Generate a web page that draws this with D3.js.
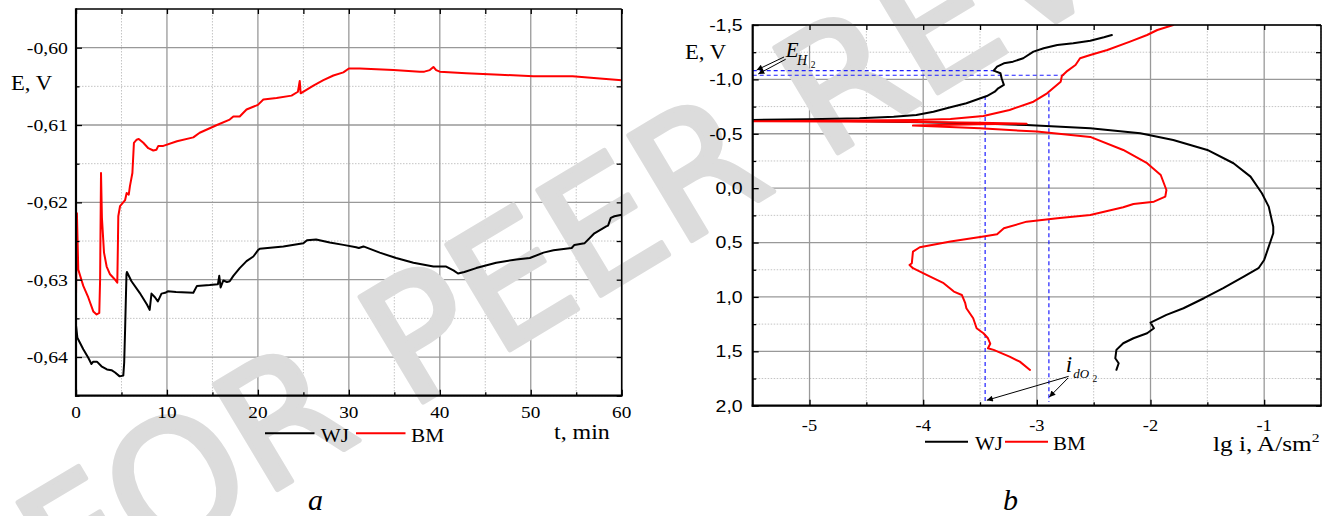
<!DOCTYPE html>
<html><head><meta charset="utf-8">
<script src="https://cdn.jsdelivr.net/npm/d3@7"></script>
<style>body{margin:0;background:#fff;} svg{display:block;}
.serif{font-family:"Liberation Serif","Times New Roman",Times,serif;}
.sans{font-family:"Liberation Sans",Arial,Helvetica,sans-serif;}
</style>
</head><body>
<svg id="c" width="1333" height="516"></svg>
<script>
// ---------- Panel a: open-circuit potential vs time ----------
const aTimeWJ = [0,0.15,0.8,1.35,1.7,1.9,2.3,2.8,3.4,3.9,4.3,4.8,5.2,5.3,5.4,5.55,5.6,6.1,7.0,7.8,8.1,8.3,8.7,9.0,9.4,9.8,10.1,11.0,12.9,13.3,14.7,15.6,15.75,15.9,16.2,16.6,16.9,17.3,18.0,18.75,19.5,20.0,20.2,22.8,25.0,25.4,26.4,27.9,29.4,30.8,31.1,31.6,33.4,35.2,37.1,39.3,40.7,41.5,42.0,42.7,44.0,46.2,48.4,49.9,51.4,52.5,54.5,54.8,55.9,57.0,58.3,58.5,58.8,59.2,60];
const aEWJ = [-0.6359,-0.6375,-0.6390,-0.6401,-0.6409,-0.6406,-0.6406,-0.6412,-0.6416,-0.6417,-0.6420,-0.6425,-0.6424,-0.6407,-0.6364,-0.6293,-0.6290,-0.6302,-0.6317,-0.6332,-0.6339,-0.6318,-0.6323,-0.6328,-0.6318,-0.6317,-0.6315,-0.6316,-0.6317,-0.6308,-0.6307,-0.6306,-0.6295,-0.6310,-0.6301,-0.6303,-0.6302,-0.6295,-0.6285,-0.6276,-0.6270,-0.6262,-0.6260,-0.6257,-0.6253,-0.6249,-0.6248,-0.6252,-0.6255,-0.6258,-0.6259,-0.6257,-0.6265,-0.6272,-0.6278,-0.6283,-0.6283,-0.6288,-0.6292,-0.6290,-0.6285,-0.6278,-0.6274,-0.6272,-0.6265,-0.6262,-0.6259,-0.6255,-0.6253,-0.6240,-0.6231,-0.6230,-0.6220,-0.6218,-0.6216];
const aTimeBM = [0,0.1,0.25,0.8,1.35,1.9,2.27,2.56,2.65,2.75,2.85,3.08,3.37,3.74,4.3,4.54,4.6,4.65,4.84,5.4,5.57,5.8,5.93,6.2,6.37,6.67,6.9,7.4,7.95,8.5,8.84,9.05,9.6,11.1,12.9,13.6,15.5,16.9,17.3,18.0,18.75,20.0,20.6,22.05,23.7,24.4,24.6,24.7,26.1,27.2,28.3,29.4,30.0,31.2,34.9,37.8,38.3,38.9,39.3,39.6,40.0,42.9,46.6,50.3,54.6,57.6,60];
const aEBM = [-0.6323,-0.6214,-0.6287,-0.6308,-0.6323,-0.6341,-0.6345,-0.6343,-0.6300,-0.6162,-0.6220,-0.6265,-0.6283,-0.6293,-0.6300,-0.6304,-0.6260,-0.6218,-0.6205,-0.6197,-0.6188,-0.6190,-0.6179,-0.6162,-0.6123,-0.6119,-0.6118,-0.6123,-0.6130,-0.6133,-0.6132,-0.6127,-0.6127,-0.6121,-0.6116,-0.6110,-0.6100,-0.6093,-0.6089,-0.6089,-0.6080,-0.6074,-0.6067,-0.6065,-0.6062,-0.6057,-0.6043,-0.6059,-0.6049,-0.6042,-0.6036,-0.6032,-0.6027,-0.6027,-0.6029,-0.6031,-0.6031,-0.6029,-0.6025,-0.6029,-0.6031,-0.6033,-0.6035,-0.6037,-0.6037,-0.6040,-0.6042];
const aXTicks = [0,10,20,30,40,50,60];
const aXTickLabels = ["0","10","20","30","40","50","60"];
const aXMinor = [5,15,25,35,45,55];
const aYTicks = [-0.64,-0.63,-0.62,-0.61,-0.60];
const aYTickLabels = ["-0,64","-0,63","-0,62","-0,61","-0,60"];
const aYMinor = [-0.645,-0.635,-0.625,-0.615,-0.605];

// ---------- Panel b: polarization curves ----------
const bLgWJ = [-2.34,-2.41,-2.53,-2.68,-2.82,-2.94,-3.03,-3.12,-3.21,-3.29,-3.35,-3.38,-3.32,-3.31,-3.29,-3.34,-3.37,-3.44,-3.62,-3.76,-3.91,-4.06,-4.26,-4.56,-5.0,-5.5,-5.0,-4.5,-4.0,-3.5,-3.09,-2.53,-2.09,-1.80,-1.50,-1.27,-1.12,-1.02,-0.96,-0.92,-0.92,-0.96,-0.99,-1.0,-1.05,-1.18,-1.36,-1.53,-1.71,-1.86,-2.0,-1.97,-2.03,-2.15,-2.24,-2.30,-2.31,-2.28,-2.30];
const bEWJ = [-1.408,-1.387,-1.356,-1.332,-1.316,-1.286,-1.255,-1.194,-1.163,-1.148,-1.117,-1.08,-1.056,-1.01,-0.949,-0.918,-0.887,-0.847,-0.78,-0.744,-0.703,-0.673,-0.657,-0.642,-0.633,-0.627,-0.622,-0.614,-0.605,-0.594,-0.581,-0.55,-0.504,-0.443,-0.351,-0.229,-0.106,0.047,0.17,0.354,0.415,0.538,0.63,0.66,0.736,0.813,0.92,1.012,1.104,1.165,1.236,1.288,1.334,1.38,1.426,1.487,1.564,1.61,1.67];
const bLgBM = [-3.06,-3.15,-3.24,-3.38,-3.43,-3.41,-3.43,-3.47,-3.53,-3.56,-3.59,-3.62,-3.63,-3.66,-3.73,-3.82,-3.97,-4.09,-4.12,-4.10,-4.09,-4.03,-3.76,-3.47,-3.35,-3.29,-3.09,-2.82,-2.53,-2.24,-2.15,-1.97,-1.87,-1.86,-1.91,-2.03,-2.24,-2.53,-3.0,-3.5,-4.09,-3.5,-3.09,-3.5,-4.2,-5.5,-4.6,-4.06,-3.76,-3.47,-3.24,-3.03,-2.91,-2.79,-2.78,-2.74,-2.66,-2.62,-2.53,-2.38,-2.18,-2.03,-1.94,-1.80];
const bEBM = [1.671,1.595,1.549,1.487,1.472,1.43,1.38,1.334,1.288,1.196,1.15,1.104,1.058,0.982,0.951,0.874,0.798,0.736,0.706,0.69,0.583,0.543,0.491,0.445,0.424,0.369,0.308,0.277,0.246,0.176,0.145,0.124,0.078,0.017,-0.121,-0.229,-0.351,-0.471,-0.52,-0.55,-0.575,-0.588,-0.592,-0.602,-0.611,-0.615,-0.622,-0.627,-0.636,-0.664,-0.719,-0.795,-0.872,-0.979,-1.031,-1.071,-1.132,-1.194,-1.224,-1.27,-1.347,-1.408,-1.454,-1.5];
const bXTicks = [-5,-4,-3,-2,-1];
const bXTickLabels = ["-5","-4","-3","-2","-1"];
const bXMinor = [-5.5,-4.5,-3.5,-2.5,-1.5,-0.5];
const bYTicks = [-1.5,-1.0,-0.5,0,0.5,1.0,1.5,2.0];
const bYTickLabels = ["-1,5","-1,0","-0,5","0,0","0,5","1,0","1,5","2,0"];
const bYMinor = [-1.25,-0.75,-0.25,0.25,0.75,1.25,1.75];
// guide lines: hydrogen potentials and oxygen limiting currents
const bHydrogenE = [-1.08,-1.038];
const bHydrogenLg = [-3.38,-2.76];
const bOxygenLg = [-3.455,-2.894];
const bOxygenE = [-0.847,-0.872];
const seriesNames = ["WJ","BM"];
const seriesColors = ["#000000","#ff0000"];

const svg = d3.select("#c");
const defs = svg.append("defs");
defs.append("marker").attr("id","ah").attr("viewBox","0 0 10 10").attr("refX",10).attr("refY",5)
  .attr("markerWidth",8).attr("markerHeight",6).attr("markerUnits","userSpaceOnUse").attr("orient","auto")
  .append("path").attr("d","M0,0 L10,5 L0,10 z").attr("fill","#000");

const xA = d3.scaleLinear([0,60],[76,621.7]);
const yA = d3.scaleLinear([-0.645,-0.595],[395.7,9]);
const xB = d3.scaleLinear([-5.5,-0.5],[752.7,1321]);
const yB = d3.scaleLinear([-1.5,2.0],[25,405.7]);

const gGrid = svg.append("g");
const gWm = svg.append("g");
const gData = svg.append("g");
const gAxes = svg.append("g");
const lab = svg.append("g").attr("fill","#000");

function stretch(sel, sx, origin) {
  sel.style("transform-box","fill-box").style("transform-origin",origin).style("transform",`scaleX(${sx})`);
  return sel;
}
function txt(x, y, s, cls, fs, anchor, sx, extra) {
  const t = lab.append("text").attr("class",cls).attr("x",x).attr("y",y).attr("text-anchor",anchor||"start")
    .style("font-size",fs+"px").text(s);
  if (extra && extra.italic) t.style("font-style","italic");
  if (sx && sx !== 1) stretch(t, sx, anchor==="end" ? "right center" : anchor==="middle" ? "center" : "left center");
  return t;
}

function grid(x, y, xMaj, xMin, yMaj, yMin) {
  const [L,R] = x.range(); const T = Math.min(...y.range()), B = Math.max(...y.range());
  const g = gGrid.append("g");
  g.selectAll(".mx").data(xMin).join("line").attr("x1",d=>x(d)).attr("x2",d=>x(d)).attr("y1",T).attr("y2",B)
    .attr("stroke","#c4c4c4").attr("stroke-width",1).attr("stroke-dasharray","1.5,1.5");
  g.selectAll(".my").data(yMin).join("line").attr("y1",d=>y(d)).attr("y2",d=>y(d)).attr("x1",L).attr("x2",R)
    .attr("stroke","#c4c4c4").attr("stroke-width",1).attr("stroke-dasharray","1.5,1.5");
  g.selectAll(".Mx").data(xMaj).join("line").attr("x1",d=>x(d)).attr("x2",d=>x(d)).attr("y1",T).attr("y2",B)
    .attr("stroke","#999999").attr("stroke-width",1.3);
  g.selectAll(".My").data(yMaj).join("line").attr("y1",d=>y(d)).attr("y2",d=>y(d)).attr("x1",L).attr("x2",R)
    .attr("stroke","#999999").attr("stroke-width",1.3);
}
grid(xA, yA, aXTicks, aXMinor, aYTicks, aYMinor);
grid(xB, yB, bXTicks, bXMinor, bYTicks, bYMinor);

// watermark
gWm.append("text").text("FOR PEER REVIEW")
  .attr("transform","translate(67,616) rotate(-31)")
  .attr("font-family","DejaVu Sans").attr("font-size",168)
  .attr("fill","#dcdcdc").attr("stroke","#dcdcdc").attr("stroke-width",5).attr("stroke-linejoin","round");

// tick marks (d3 axes, labels drawn separately) and frame
function axes(x, y, o) {
  const [L,R] = x.range(); const T = Math.min(...y.range()), B = Math.max(...y.range());
  const g = gAxes.append("g");
  const style = sel => { sel.select(".domain").remove(); sel.selectAll("text").remove();
    sel.selectAll("line").attr("stroke","#000").attr("stroke-width",1.3); };
  g.append("g").attr("transform",`translate(0,${B})`)
    .call(d3.axisBottom(x).tickValues(o.xT).tickSize(-6)).call(style);
  g.append("g").attr("transform",`translate(0,${B})`)
    .call(d3.axisBottom(x).tickValues(o.xM).tickSize(-3.5)).call(style);
  g.append("g").attr("transform",`translate(0,${T})`)
    .call(d3.axisTop(x).tickValues(o.xT.concat(o.xM)).tickSize(-5)).call(style);
  g.append("g").attr("transform",`translate(${L},0)`)
    .call(d3.axisLeft(y).tickValues(o.yT).tickSize(-6)).call(style);
  g.append("g").attr("transform",`translate(${L},0)`)
    .call(d3.axisLeft(y).tickValues(o.yM).tickSize(-3.5)).call(style);
  g.append("g").attr("transform",`translate(${R},0)`)
    .call(d3.axisRight(y).tickValues(o.yT.concat(o.yM)).tickSize(-5)).call(style);
  g.append("line").attr("x1",L).attr("x2",R).attr("y1",T).attr("y2",T).attr("stroke","#000").attr("stroke-width",1.6);
  g.append("line").attr("x1",R).attr("x2",R).attr("y1",T).attr("y2",B).attr("stroke","#000").attr("stroke-width",1.6);
  g.append("line").attr("x1",L).attr("x2",L).attr("y1",T-0.8).attr("y2",B+1).attr("stroke","#000").attr("stroke-width",2.2);
  g.append("line").attr("x1",L-1).attr("x2",R+0.8).attr("y1",B).attr("y2",B).attr("stroke","#000").attr("stroke-width",2.2);
  o.xT.forEach((v,i)=> txt(x(v), B + o.xDy, o.xL[i], "serif", o.xFs, "middle", o.xSx));
  o.yT.forEach((v,i)=> txt(L - o.yPad, y(v) + 0.35*o.yFs, o.yL[i], o.yCls, o.yFs, "end", o.ySx));
}
axes(xA, yA, {xT:aXTicks,xL:aXTickLabels,xM:aXMinor,yT:aYTicks,yL:aYTickLabels,yM:aYMinor,
  xDy:22.6,xFs:17.5,xSx:1.1,yPad:8,yFs:17.5,ySx:1.13,yCls:"serif"});
axes(xB, yB, {xT:bXTicks,xL:bXTickLabels,xM:bXMinor.filter(d=>d>-5.5&&d<-0.5),yT:bYTicks,yL:bYTickLabels,yM:bYMinor,
  xDy:25.3,xFs:17.5,xSx:1.05,yPad:10,yFs:16.8,ySx:1.16,yCls:"sans"});

// clip paths
defs.append("clipPath").attr("id","clipA").append("rect").attr("x",76).attr("y",9).attr("width",545.7).attr("height",386.7);
defs.append("clipPath").attr("id","clipB").append("rect").attr("x",752.7).attr("y",25).attr("width",568.3).attr("height",380.7);

function series(clip, x, y, xs, ys, color) {
  const pts = xs.map((v,i)=>[v, ys[i]]);
  gData.append("path").datum(pts).attr("clip-path",`url(#${clip})`)
    .attr("d", d3.line().x(d=>x(d[0])).y(d=>y(d[1])))
    .attr("fill","none").attr("stroke",color).attr("stroke-width",2).attr("stroke-linejoin","round").attr("stroke-linecap","round");
}
series("clipA", xA, yA, aTimeWJ, aEWJ, seriesColors[0]);
series("clipA", xA, yA, aTimeBM, aEBM, seriesColors[1]);

// blue dashed guides in panel b
bHydrogenE.forEach((e,i)=>{
  gData.append("line").attr("x1",xB(-5.5)).attr("x2",xB(bHydrogenLg[i])).attr("y1",yB(e)).attr("y2",yB(e))
    .attr("stroke","#1f1fff").attr("stroke-width",1.2).attr("stroke-dasharray","4,3");
});
bOxygenLg.forEach((l,i)=>{
  gData.append("line").attr("x1",xB(l)).attr("x2",xB(l)).attr("y1",yB(bOxygenE[i])).attr("y2",yB(1.965))
    .attr("stroke","#1f1fff").attr("stroke-width",1.2).attr("stroke-dasharray","4,3");
});
series("clipB", xB, yB, bLgWJ, bEWJ, seriesColors[0]);
series("clipB", xB, yB, bLgBM, bEBM, seriesColors[1]);

// annotations panel b
const arrow = (x1,y1,x2,y2) => gAxes.append("line").attr("x1",xB(x1)).attr("y1",yB(y1)).attr("x2",xB(x2)).attr("y2",yB(y2))
  .attr("stroke","#000").attr("stroke-width",1).attr("marker-end","url(#ah)");
arrow(-5.224,-1.206,-5.465,-1.086);
arrow(-5.21,-1.185,-5.451,-1.05);
txt(xB(-5.21), yB(-1.206), "E", "serif", 21, "start", 1, {italic:true});
txt(xB(-5.11), yB(-1.135), "H", "serif", 14, "start", 1, {italic:true});
txt(xB(-4.99), yB(-1.105), "2", "serif", 9.5, "start", 1);
arrow(-2.72,1.73,-3.44,1.95);
arrow(-2.725,1.745,-2.89,1.92);
txt(xB(-2.745), yB(1.689), "i", "serif", 23, "start", 1, {italic:true});
txt(xB(-2.68), yB(1.744), "dO", "serif", 13, "start", 1, {italic:true});
txt(xB(-2.51), yB(1.781), "2", "serif", 9.5, "start", 1);

// axis titles & panel letters
txt(11, 90.5, "E, V", "serif", 22, "start", 1.03);
txt(685, 59.5, "E, V", "serif", 22, "start", 1.03);
txt(554, 439, "t, min", "serif", 21, "start", 1.14);
const lg = txt(1213, 451.5, "", "serif", 21, "start", 1.2);
lg.append("tspan").text("lg i, A/sm");
lg.append("tspan").attr("dy",-9).style("font-size","13px").text("2");
txt(308, 510, "a", "serif", 30, "start", 1, {italic:true});
txt(1003, 510, "b", "serif", 30, "start", 1, {italic:true});

// legends (layout offsets relative to start)
function legend(x0, y0, lineStarts, lineLen, textStarts, fs) {
  seriesNames.forEach((n,i)=>{
    lab.append("line").attr("x1",x0+lineStarts[i]).attr("x2",x0+lineStarts[i]+lineLen).attr("y1",y0).attr("y2",y0)
      .attr("stroke",seriesColors[i]).attr("stroke-width",2);
    txt(x0+textStarts[i], y0+8.7, n, "serif", fs, "start", 1.13);
  });
}
legend(265, 433.3, [0,91], 49.5, [55.7,146], 18.8);
legend(925, 441.7, [0,80], 43, [50,128], 18.5);
</script>
</body></html>
